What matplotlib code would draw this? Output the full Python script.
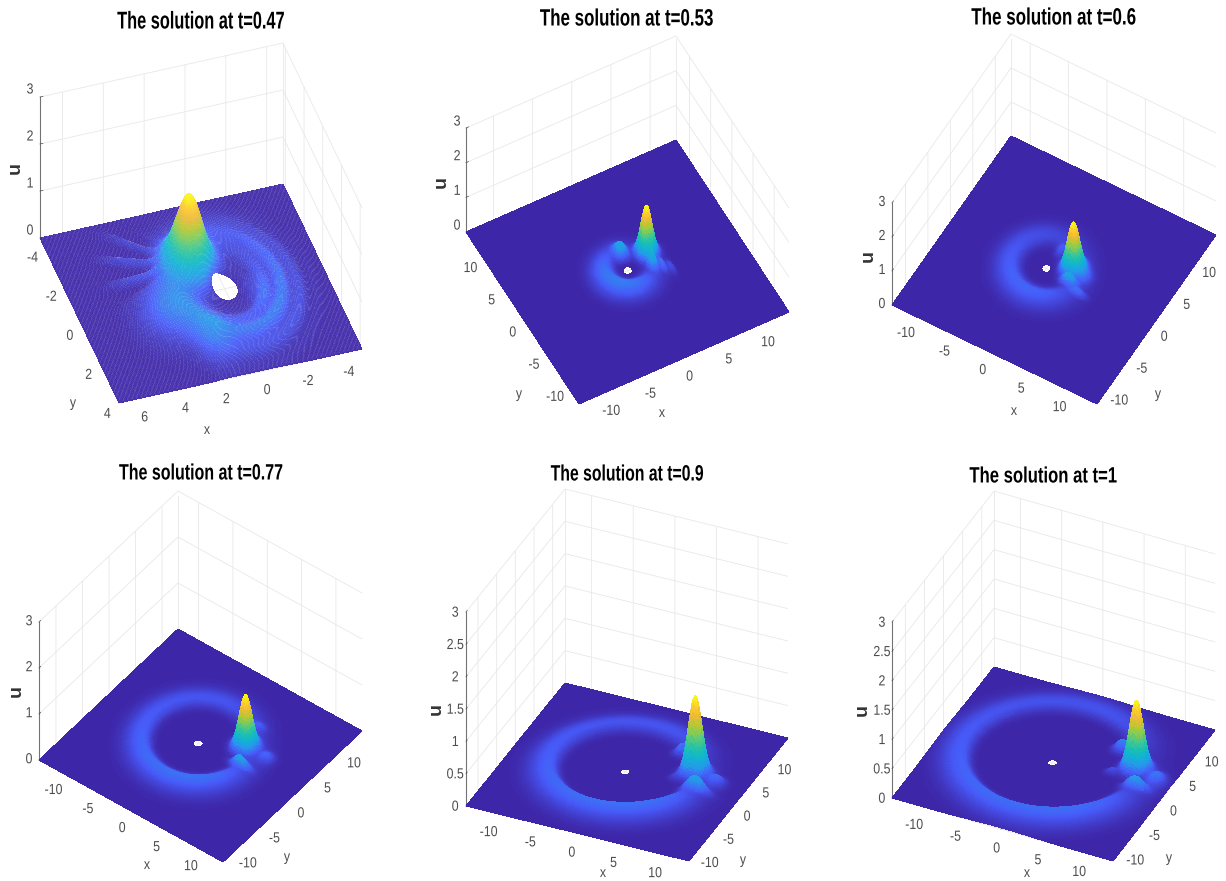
import numpy as np
import matplotlib
matplotlib.use("Agg")
import matplotlib.pyplot as plt
from matplotlib.colors import LinearSegmentedColormap
from matplotlib.patheffects import AbstractPathEffect
from matplotlib.ticker import FormatStrFormatter
from matplotlib.transforms import Affine2D
from mpl_toolkits.mplot3d import proj3d
from mpl_toolkits.mplot3d.art3d import Poly3DCollection

# ---- values (surfaces are estimated from visible features)
TITLES = ["The solution at t=0.47", "The solution at t=0.53", "The solution at t=0.6",
          "The solution at t=0.77", "The solution at t=0.9", "The solution at t=1"]
X_LIMS = [(-4.8, 7.1), (-13.5, 13.3), (-12.5, 14.2), (-13.0, 13.8), (-13.2, 13.6), (-13.2, 13.6)]
Y_LIMS = [(-4.25, 4.2), (-13.5, 13.2), (-13.0, 13.5), (-13.2, 13.0), (-13.2, 13.3), (-13.5, 13.2)]
X_TICKS = [[-4, -2, 0, 2, 4, 6]] + [[-10, -5, 0, 5, 10]] * 5
Y_TICKS = [[-4, -2, 0, 2, 4]] + [[-10, -5, 0, 5, 10]] * 5
Z_TICKS = [[0, 1, 2, 3]] * 4 + [[0, .5, 1, 1.5, 2, 2.5, 3]] * 2
PEAK_X = [1.1, 2.97, 2.76, 4.8, 7.34, 8.95]
PEAK_Y = [-1.2, 1.05, 1.29, 2.67, 2.38, 2.66]
PEAK_H = [1.35, 1.25, 1.25, 1.02, 1.07, 1.04]
PEAK_S = [0.6, 0.62, 0.68, 0.72, 0.74, 0.76]
RING_R = [2.4, 2.6, 4.0, 6.4, 8.3, 10.0]
RING_AMP = [0.17, 0.19, 0.15, 0.135, 0.14, 0.13]
RING_IN = [0.9, 1.1, 1.1, 1.0, 1.0, 1.0]
RING_OUT = [1.1, 1.7, 1.9, 2.2, 2.4, 2.5]
RING_NOTCH = [0.3, 0.85, 0.7, 0.7, 0.8, 0.85]
RING_NOTCH_W = [0.6, 1.5, 1.3, 0.8, 0.6, 0.6]
RING_BRIGHT_DEG = [90, -120, -60, -50, -65, -65]
HOLE_R = [0.6, 0.52, 0.52, 0.55, 0.55, 0.55]
# each bump: x, y, height, spread along x, spread along y
BUMPS = [
    [(1.2, -1.2, 0.25, 1.2, 1.2), (3.2, 0.8, 0.16, 1.3, 1.3), (1.7, 2.5, 0.14, 0.8, 1.1), (-1.3, 0.5, 0.1, 0.5, 0.9)],
    [(2.97, 1.05, 0.12, 1.2, 1.2), (0.3, 2.2, 0.3, 0.7, 1.0), (2.66, -0.7, 0.38, 0.45, 0.95),
     (3.6, -1.4, 0.16, 0.35, 1.0), (4.4, -2.0, 0.1, 0.35, 1.0)],
    [(2.76, 1.29, 0.15, 1.4, 1.4), (3.3, -0.7, 0.28, 0.95, 0.42), (4.9, -1.4, 0.13, 1.0, 0.4),
     (0.4, 2.7, 0.12, 0.6, 0.8), (4.4, 0.8, 0.14, 0.8, 0.9)],
    [(4.8, 2.67, 0.13, 1.5, 1.5), (6.2, -0.2, 0.2, 1.3, 0.5), (4.3, 5.9, 0.07, 0.9, 0.7), (7.9, 2.6, 0.11, 0.9, 1.0)],
    [(7.34, 2.38, 0.15, 1.5, 1.5), (9.0, -1.0, 0.22, 1.4, 0.6), (4.4, 5.4, 0.17, 0.9, 0.7),
     (10.2, 1.5, 0.14, 1.0, 1.1), (5.8, 0.8, 0.07, 0.8, 0.55)],
    [(8.95, 2.66, 0.15, 1.5, 1.5), (10.5, -0.8, 0.2, 1.4, 0.6), (6.1, 5.2, 0.2, 1.0, 0.8),
     (11.9, 1.45, 0.16, 1.0, 1.4), (6.8, 1.0, 0.09, 0.8, 0.55)],
]
PARULA = [(.2422, .1504, .6603), (.2780, .3556, .9777), (.1540, .5902, .9218), (.0689, .6948, .8394),
          (.1000, .7500, .7000), (.2600, .7800, .5600), (.5044, .7993, .3480), (.7300, .7800, .1900),
          (.9300, .7300, .2200), (.9900, .8000, .1700), (.9769, .9839, .0805)]

# ---- layout, in reference pixels
W, H = 1226, 881
# floor corners (x min,y min), (x max,y min), (x min,y max) and pixel height of the z range
CORNERS = [((283, 184), (40, 238), (362, 349), 141),
           ((579, 404), (789, 312), (466, 232), 104),
           ((892, 305), (1097, 404), (1011, 136), 102),
           ((39, 760), (223, 862), (178, 629), 138),
           ((466, 806), (689, 861), (565, 683), 194),
           ((892, 798), (1113, 861), (994, 667), 176)]
Z_TICK_SIDE = ["default", "default", "lower", "lower", "lower", "lower"]
Z_LABEL_SHIFT = [(3, 10), (5, 10), (4, 11), (4, 9), (2, 9), (3, 9)]
TITLE_POS = [(201, 22), (627, 19), (1054, 18), (201, 474), (627, 475), (1043, 477)]
TITLE_SIZE = [17.5, 17, 17, 16, 16, 16]
TITLE_SQUEEZE = [0.672, 0.717, 0.72, 0.72, 0.71, 0.75]
XLABEL_POS = [(207, 430), (662, 413), (1014, 411), (147, 865), (603, 873), (1027, 873)]
YLABEL_POS = [(73, 403), (519, 394), (1158, 394), (287, 857), (743, 860), (1169, 858)]
ULABEL_POS = [(15, 168), (441, 182), (868, 256), (16, 691), (436, 709), (862, 710)]
GRID_N = [200, 220, 220, 220, 220, 220]
FONT = ["Liberation Sans", "DejaVu Sans"]
GRID_C = (.91, .91, .91, 1)
TICK_C = "0.3"

plt.rcParams["axes.unicode_minus"] = False
cmap = LinearSegmentedColormap.from_list("parula_like", PARULA)


class Squeeze(AbstractPathEffect):
    """Narrow a text about its own centre (the reference font is condensed), optionally nudging it."""
    def __init__(self, factor, dx=0, dy=0):
        super().__init__()
        self.factor, self.dx, self.dy = factor, dx, dy

    def draw_path(self, renderer, gc, tpath, affine, rgbFace=None):
        ext = tpath.get_extents()
        cx = 0.5 * (ext.x0 + ext.x1)
        t = Affine2D().translate(-cx, 0).scale(self.factor, 1).translate(cx, 0) + affine
        t = t + Affine2D().translate(self.dx, self.dy)
        renderer.draw_path(gc, tpath, t, rgbFace)


def solve_view(c00, c10, c01, zh):
    r1, u1 = c10[0] - c00[0], c00[1] - c10[1]
    r2, u2 = c01[0] - c00[0], c00[1] - c01[1]
    s = np.sqrt(-u1 * u2 / (r1 * r2))
    k2 = -u1 * r1 / (u2 * r2)
    a = np.sqrt(r1 ** 2 + k2 * r2 ** 2)
    b = a / np.sqrt(k2)
    az = np.degrees(np.arctan2(-r1 / a, r2 / b))
    el = np.degrees(np.arcsin(s))
    return az, el, (a, b, zh / np.cos(np.radians(el)))


def height_field(i, X, Y):
    r = np.hypot(X, Y)
    th = np.arctan2(Y, X)
    d = r - RING_R[i]
    ring = RING_AMP[i] * np.exp(-(d / np.where(d < 0, RING_IN[i], RING_OUT[i])) ** 2)
    dth = np.angle(np.exp(1j * (th - np.arctan2(PEAK_Y[i], PEAK_X[i]))))
    ring = ring * (1 - RING_NOTCH[i] * np.exp(-(dth / RING_NOTCH_W[i]) ** 2))
    ring = ring * (1 + 0.22 * np.cos(th - np.radians(RING_BRIGHT_DEG[i])))
    Z = ring + PEAK_H[i] * np.exp(-((X - PEAK_X[i]) ** 2 + (Y - PEAK_Y[i]) ** 2) / (2 * PEAK_S[i] ** 2))
    for bx, by, amp, sx, sy in BUMPS[i]:
        Z = Z + amp * np.exp(-((X - bx) / sx) ** 2 - ((Y - by) / sy) ** 2)
    if i == 0:
        dist = np.hypot(X - PEAK_X[0], Y - PEAK_Y[0])
        phi = np.arctan2(Y - PEAK_Y[0], X - PEAK_X[0])
        win = np.exp(-((phi + 0.31) / 0.5) ** 4) * np.exp(-((dist - 2.8) / 1.1) ** 2)
        Z = Z + 0.1 * np.cos(19 * phi) * win
        arc = np.exp(-((np.angle(np.exp(1j * (th - 2.6)))) / 1.2) ** 2) * np.exp(-((r - 2.4) / 1.3) ** 2)
        Z = Z + 0.05 * np.cos(2 * np.pi * r / 0.85) * arc
    return np.maximum(Z, 0) * (1 - np.exp(-(r / 0.9) ** 2))


fig = plt.figure(figsize=(W / 100, H / 100), dpi=100, facecolor="white")

for i in range(6):
    c00, c10, c01, zh = CORNERS[i]
    az, el, aspect = solve_view(c00, c10, c01, zh)
    ax = fig.add_axes([0.3, 0.3, 400 / W, 400 / H], projection="3d", computed_zorder=False)
    ax.patch.set_alpha(0)
    ax.set_proj_type("ortho")
    ax.view_init(elev=el, azim=az, roll=0)
    ax.set_box_aspect(aspect)
    xl, yl = X_LIMS[i], Y_LIMS[i]
    ax.set_xlim(*xl, view_margin=0)
    ax.set_ylim(*yl, view_margin=0)
    ax.set_zlim(0, 3, view_margin=0)

    # size and place the axes so that the floor lands on the reference corners
    side = 400.0
    for _ in range(2):
        ax.set_position([0.3, 0.3, side / W, side / H])
        ax.apply_aspect()
        M = ax.get_proj()
        def px(x, y, z=0.0):
            xd, yd, _z = proj3d.proj_transform(x, y, z, M)
            return ax.transData.transform((xd, yd))
        p0 = px(xl[0], yl[0]); p1 = px(xl[1], yl[0])
        side *= np.hypot(c10[0] - c00[0], c10[1] - c00[1]) / np.hypot(*(p1 - p0))
    ax.set_position([0.3, 0.3, side / W, side / H])
    ax.apply_aspect()
    p0 = px(xl[0], yl[0])
    dx, dy = c00[0] - p0[0], (H - c00[1]) - p0[1]
    ax.set_position([0.3 + dx / W, 0.3 + dy / H, side / W, side / H])

    # surface as a quad mesh; nodes inside the central hole are pulled onto its rim
    n = GRID_N[i]
    X, Y = np.meshgrid(np.linspace(*xl, n), np.linspace(*yl, n))
    rr = np.hypot(X, Y)
    inside = rr < HOLE_R[i]
    scale = np.where(inside, HOLE_R[i] / np.maximum(rr, 1e-6), 1.0)
    X = X * scale
    Y = Y * scale
    Z = height_field(i, X, Y)
    zmax = Z.max()
    quads = np.stack([
        np.stack([X[:-1, :-1], Y[:-1, :-1], Z[:-1, :-1]], -1),
        np.stack([X[:-1, 1:], Y[:-1, 1:], Z[:-1, 1:]], -1),
        np.stack([X[1:, 1:], Y[1:, 1:], Z[1:, 1:]], -1),
        np.stack([X[1:, :-1], Y[1:, :-1], Z[1:, :-1]], -1)], axis=2)
    keep = ~(inside[:-1, :-1] & inside[:-1, 1:] & inside[1:, 1:] & inside[1:, :-1])
    cz = quads[..., 2].mean(2)
    faces = cmap(np.clip(cz[keep] / zmax, 0, 1))
    edge = (1, 1, 1, 0.06) if i == 0 else "none"
    coll = Poly3DCollection(quads[keep], facecolors=faces, edgecolors=edge,
                            linewidths=0.3 if i == 0 else 0, antialiaseds=False, zsort="average")
    ax.add_collection3d(coll)

    # axes styling
    ax.set_xticks(X_TICKS[i]); ax.set_yticks(Y_TICKS[i]); ax.set_zticks(Z_TICKS[i])
    ax.zaxis.set_ticks_position(Z_TICK_SIDE[i])
    squeeze_ticks = [Squeeze(0.85)]
    for axis in (ax.xaxis, ax.yaxis, ax.zaxis):
        axis.set_pane_color((1, 1, 1, 0))
        axis.pane.set_edgecolor((1, 1, 1, 0))
        axis.line.set_color(GRID_C)
        axis._axinfo["grid"].update(color=GRID_C, linewidth=0.6)
        axis._axinfo["tick"].update(inward_factor=0.0, outward_factor=0.15, linewidth={True: 0.5, False: 0.5})
        axis.set_major_formatter(FormatStrFormatter("%g"))
        axis.set_tick_params(colors=TICK_C, labelsize=10.5, pad=-2)
        for lab in axis.get_ticklabels():
            lab.set_fontfamily(FONT)
            lab.set_path_effects(squeeze_ticks)
    for lab in ax.zaxis.get_ticklabels():
        lab.set_path_effects([Squeeze(0.85, *Z_LABEL_SHIFT[i])])
    ax.zaxis.line.set_color("0.45")
    ax.grid(True)

    # back vertical edge of the box
    corners = [(xl[0], yl[0]), (xl[1], yl[0]), (xl[0], yl[1]), (xl[1], yl[1])]
    bx, by = max(corners, key=lambda c: px(c[0], c[1])[1])
    ax.plot([bx, bx], [by, by], [0, 3], color=GRID_C, lw=0.6, zorder=-1)

    fig.text(TITLE_POS[i][0] / W, 1 - TITLE_POS[i][1] / H, TITLES[i], ha="center", va="center",
             family=FONT, weight="bold", fontsize=TITLE_SIZE[i], color="black",
             path_effects=[Squeeze(TITLE_SQUEEZE[i])])
    fig.text(XLABEL_POS[i][0] / W, 1 - XLABEL_POS[i][1] / H, "x", ha="center", va="center",
             family=FONT, fontsize=10.5, color=TICK_C, path_effects=squeeze_ticks)
    fig.text(YLABEL_POS[i][0] / W, 1 - YLABEL_POS[i][1] / H, "y", ha="center", va="center",
             family=FONT, fontsize=10.5, color=TICK_C, path_effects=squeeze_ticks)
    fig.text(ULABEL_POS[i][0] / W, 1 - ULABEL_POS[i][1] / H, "u", ha="center", va="center",
             rotation=90, family=FONT, weight="bold", fontsize=14, color="0.2")

fig.savefig("out.png", dpi=100, facecolor="white")
